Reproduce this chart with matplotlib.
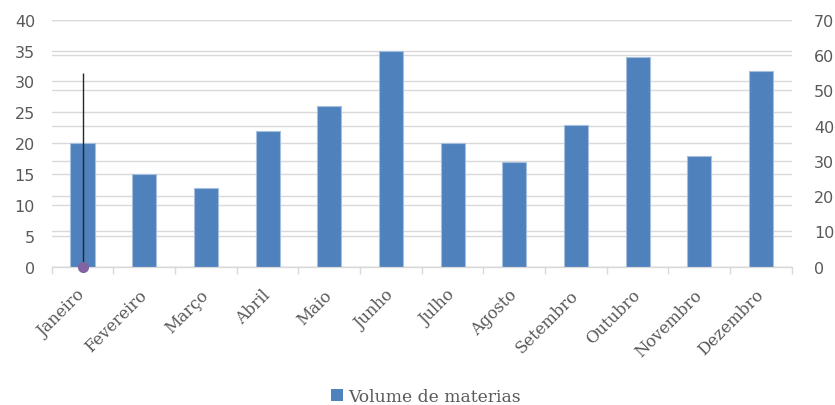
import matplotlib
matplotlib.use("Agg")
import matplotlib.pyplot as plt
import matplotlib.transforms as mtransforms
from matplotlib.patches import Patch

# Data
months = ["Janeiro", "Fevereiro", "Março", "Abril", "Maio", "Junho",
          "Julho", "Agosto", "Setembro", "Outubro", "Novembro", "Dezembro"]
volume = [20, 15, 12.7, 22, 26, 35, 20, 17, 23, 34, 18, 31.7]
# secondary series: a single point with an error bar
second_x = [0]
second_y = [0]
second_err = [55]

bar_color = "#4f81bd"
grid_color = "#d9d9d9"
tick_color = "#595959"

fig = plt.figure(figsize=(8.35, 4.06), dpi=100)
ax = fig.add_axes([0.0619, 0.3406, 0.8863, 0.6084])
ax2 = ax.twinx()   # right axis, holds its grid
ax3 = ax.twinx()   # on top, for the error bar series

# right grid behind the bars
ax2.set_zorder(0)
ax.set_zorder(1)
ax3.set_zorder(2)
ax.patch.set_visible(False)
ax3.patch.set_visible(False)

x = list(range(len(months)))
ax.bar(x, volume, width=0.39, color=bar_color, edgecolor="#a7bfde", linewidth=0.8, zorder=3)
ax.set_xlim(-0.5, len(months) - 0.5)
ax.set_ylim(0, 40)
ax.set_yticks(range(0, 41, 5))
ax.grid(axis="y", color=grid_color, linewidth=1.0, zorder=0)
ax.set_axisbelow(True)

ax2.set_ylim(0, 70)
ax2.set_yticks(range(0, 71, 10))
ax2.grid(axis="y", color=grid_color, linewidth=1.0, zorder=0)

ax3.set_ylim(0, 70)
ax3.set_yticks([])
ax3.errorbar(second_x, second_y, yerr=[[0], second_err], fmt="o", color="#8064a2",
             ecolor="#262626", elinewidth=1.0, capsize=0, markersize=7, zorder=5, clip_on=False)

# category ticks between bars
ax.set_xticks([i - 0.5 for i in range(len(months) + 1)], minor=True)
ax.set_xticks(x)
ax.set_xticklabels(months, rotation=45, ha="right", rotation_mode="anchor",
                   fontfamily="DejaVu Serif", fontsize=11.8, color=tick_color)
ax.tick_params(axis="x", which="major", length=0, pad=14)
ax.tick_params(axis="x", which="minor", length=5, color=grid_color, width=1)
shift = mtransforms.ScaledTranslation(-6 / 100, 0, fig.dpi_scale_trans)
for lbl in ax.get_xticklabels():
    lbl.set_transform(lbl.get_transform() + shift)

for a in (ax, ax2, ax3):
    for side in ("top", "left", "right"):
        a.spines[side].set_visible(False)
    a.spines["bottom"].set_color(grid_color)
    a.tick_params(axis="y", length=0, labelsize=11.5, labelcolor=tick_color)

ax.tick_params(axis="y", pad=12)
ax2.tick_params(axis="y", pad=16)

handles = [Patch(facecolor=bar_color, label="Volume de materias")]
fig.legend(handles=handles, loc="center", bbox_to_anchor=(0.51, 0.022), frameon=False,
           prop={"family": "DejaVu Serif", "size": 12.3}, handlelength=0.7, handleheight=0.7,
           handletextpad=0.3, labelcolor=tick_color)

fig.savefig("out.png", dpi=100)
